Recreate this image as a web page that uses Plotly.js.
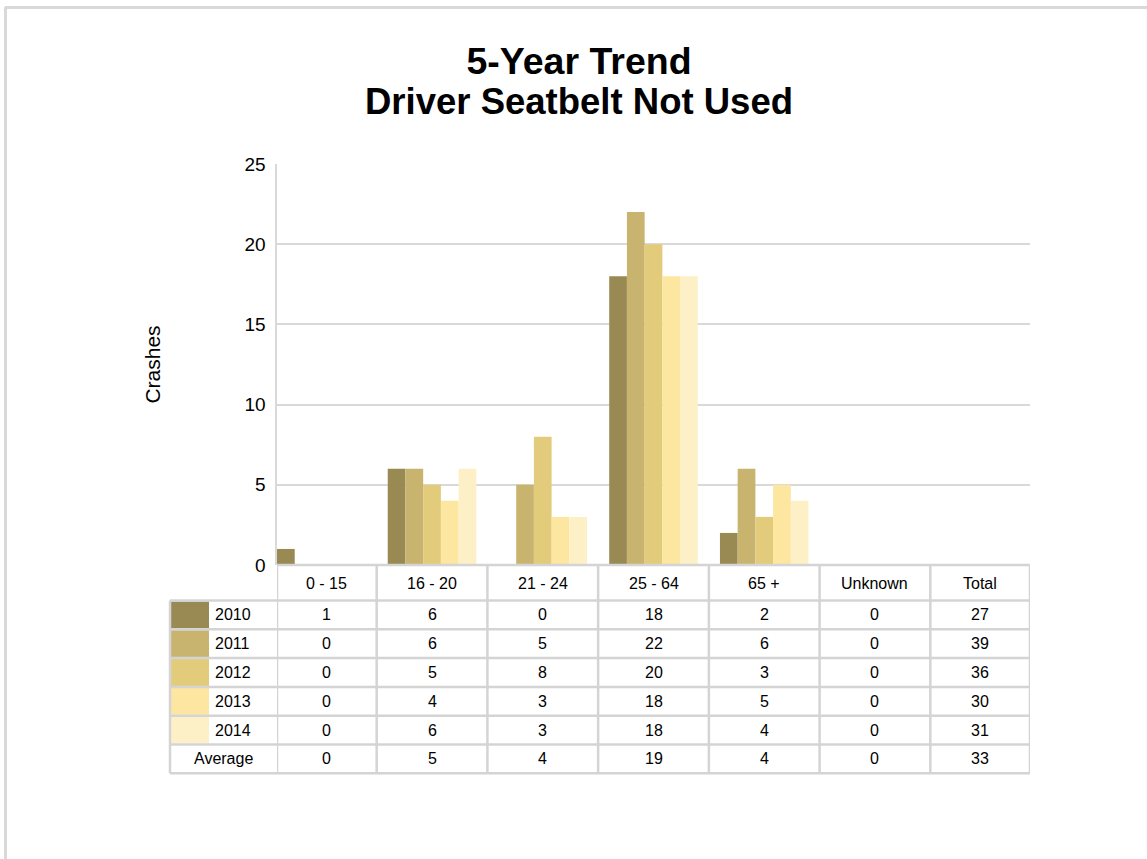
<!DOCTYPE html>
<html>
<head>
<meta charset="utf-8">
<script src="https://cdn.plot.ly/plotly-3.0.1.min.js"></script>
<style>
html,body{margin:0;padding:0;background:#fff;}
#chart{width:1147px;height:859px;}
</style>
</head>
<body>
<div id="chart"></div>
<script>
// ---- data ----
const categories = ["0 - 15", "16 - 20", "21 - 24", "25 - 64", "65 +", "Unknown", "Total"];
const years = ["2010", "2011", "2012", "2013", "2014"];
const v2010 = [1, 6, 0, 18, 2, 0, 27];
const v2011 = [0, 6, 5, 22, 6, 0, 39];
const v2012 = [0, 5, 8, 20, 3, 0, 36];
const v2013 = [0, 4, 3, 18, 5, 0, 30];
const v2014 = [0, 6, 3, 18, 4, 0, 31];
const average = [0, 5, 4, 19, 4, 0, 33];
const seriesValues = [v2010, v2011, v2012, v2013, v2014];
const colors = ["#998a53", "#c9b46f", "#e3cb7c", "#fce6a0", "#fdf0c7"];
const plottedCount = 6; // "Total" column is shown in the table only

// ---- layout geometry (pixels) ----
const W = 1147, H = 859;
const plotL = 277, plotR = 1030, plotT = 164, plotB = 565;
const xRange = [-0.4, 6.4];
const font = "Liberation Sans, Arial, sans-serif";
const gridCol = "#d9d9d9";
const lineCol = "#d4d4d4";
const cellFont = { family: font, size: 16, color: "#000" };

function px2x(px) { return (px - plotL) / (plotR - plotL); }
function px2y(py) { return (plotB - py) / (plotB - plotT); }

const traces = years.map((yr, i) => ({
  type: "bar",
  name: yr,
  x: categories.slice(0, plottedCount),
  y: seriesValues[i].slice(0, plottedCount),
  marker: { color: colors[i], line: { width: 0 } },
  hoverinfo: "x+y+name"
}));

// table geometry
const headerTop = 565, headerBottom = 600.5, rowH = 28.8;
const legendLeft = 170;
const rowTops = [];
for (let r = 0; r <= years.length + 1; r++) rowTops.push(headerBottom + r * rowH);
const tableBottom = rowTops[rowTops.length - 1];

// column boundaries in category units
const colBounds = [xRange[0]];
for (let i = 0; i < categories.length - 1; i++) colBounds.push(i + 0.5);
colBounds.push(xRange[1]);
const colCenters = categories.map((c, i) => (colBounds[i] + colBounds[i + 1]) / 2);

const shapes = [];
const annotations = [];

// page border
shapes.push({ type: "line", xref: "paper", yref: "paper", x0: px2x(5), x1: px2x(W), y0: px2y(7.5), y1: px2y(7.5), line: { color: gridCol, width: 3 } });
shapes.push({ type: "line", xref: "paper", yref: "paper", x0: px2x(5.5), x1: px2x(5.5), y0: px2y(7), y1: px2y(H), line: { color: gridCol, width: 3 } });

// legend swatches
years.forEach((yr, r) => {
  shapes.push({
    type: "rect", xref: "paper", yref: "paper",
    x0: px2x(171), x1: px2x(209), y0: px2y(rowTops[r] + 1), y1: px2y(rowTops[r + 1] - 1),
    fillcolor: colors[r], line: { width: 0 }
  });
  annotations.push({
    xref: "paper", yref: "paper", x: px2x(213), y: px2y((rowTops[r] + rowTops[r + 1]) / 2),
    xanchor: "left", yanchor: "middle", text: yr, showarrow: false, font: cellFont
  });
});
annotations.push({
  xref: "paper", yref: "paper", x: px2x((legendLeft + plotL) / 2), y: px2y((rowTops[5] + rowTops[6]) / 2),
  xanchor: "center", yanchor: "middle", text: "Average", showarrow: false, font: cellFont
});

// horizontal table lines
shapes.push({ type: "line", xref: "x", yref: "paper", x0: xRange[0], x1: xRange[1], y0: px2y(headerTop), y1: px2y(headerTop), line: { color: lineCol, width: 2.5 } });
rowTops.forEach(py => {
  shapes.push({ type: "line", xref: "paper", yref: "paper", x0: px2x(legendLeft), x1: 1, y0: px2y(py), y1: px2y(py), line: { color: lineCol, width: 2.5 } });
});
// vertical table lines
shapes.push({ type: "line", xref: "paper", yref: "paper", x0: px2x(legendLeft), x1: px2x(legendLeft), y0: px2y(headerBottom), y1: px2y(tableBottom), line: { color: lineCol, width: 2.5 } });
colBounds.forEach(b => {
  shapes.push({ type: "line", xref: "x", yref: "paper", x0: b, x1: b, y0: px2y(headerTop), y1: px2y(tableBottom), line: { color: lineCol, width: 2.5 } });
});

// header + cell texts
const tableRows = seriesValues.concat([average]);
categories.forEach((c, i) => {
  annotations.push({
    xref: "x", yref: "paper", x: colCenters[i], y: px2y((headerTop + headerBottom) / 2 + 1),
    xanchor: "center", yanchor: "middle", text: c, showarrow: false, font: cellFont
  });
  tableRows.forEach((vals, r) => {
    annotations.push({
      xref: "x", yref: "paper", x: colCenters[i], y: px2y((rowTops[r] + rowTops[r + 1]) / 2),
      xanchor: "center", yanchor: "middle", text: String(vals[i]), showarrow: false, font: cellFont
    });
  });
});

// second title line
annotations.push({
  xref: "paper", yref: "paper", x: px2x(579), y: px2y(124),
  xanchor: "center", yanchor: "bottom", text: "<b>Driver Seatbelt Not Used</b>", showarrow: false,
  font: { family: font, size: 36.5, color: "#000" }
});

const layout = {
  width: W, height: H,
  paper_bgcolor: "#fff", plot_bgcolor: "#fff",
  margin: { l: plotL, r: W - plotR, t: plotT, b: H - plotB, autoexpand: false },
  title: {
    text: "<b>5-Year Trend</b>",
    xref: "container", yref: "container", x: 579 / W, xanchor: "center",
    y: 1 - 65.5 / H, yanchor: "bottom", pad: { b: -8 },
    font: { family: font, size: 37.5, color: "#000" }
  },
  showlegend: false,
  barmode: "group", bargap: 0.2, bargroupgap: 0,
  xaxis: {
    type: "category", categoryorder: "array", categoryarray: categories,
    range: xRange, showticklabels: false, showgrid: false, zeroline: false, showline: false, ticks: "", fixedrange: true
  },
  yaxis: {
    range: [0, 25], dtick: 5, tick0: 0,
    showgrid: true, gridcolor: gridCol, gridwidth: 2,
    zeroline: false, showline: true, linecolor: gridCol, linewidth: 2.5,
    ticks: "", ticklabelstandoff: 5,
    tickfont: { family: font, size: 19, color: "#000" },
    title: { text: "Crashes", standoff: 78, font: { family: font, size: 21, color: "#000" } },
    automargin: false, fixedrange: true
  },
  shapes: shapes,
  annotations: annotations,
  font: { family: font }
};

Plotly.newPlot("chart", traces, layout, { displayModeBar: false, staticPlot: true });
</script>
</body>
</html>
